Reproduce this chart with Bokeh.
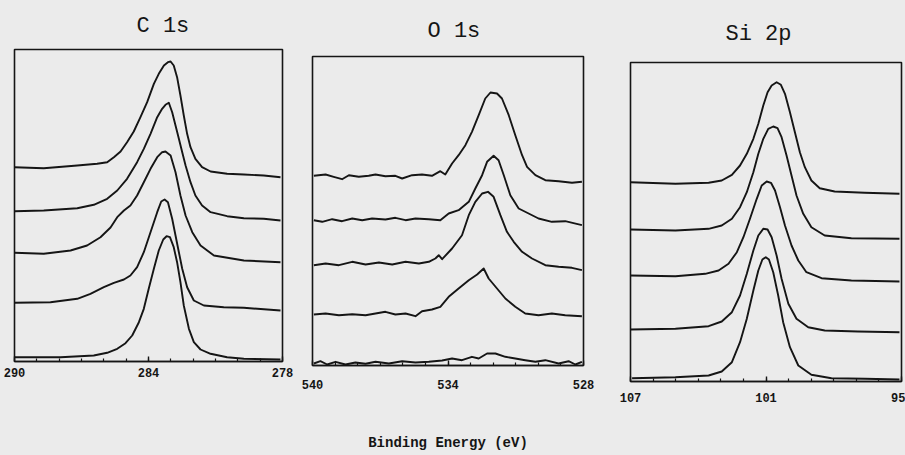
from bokeh.plotting import figure
from bokeh.layouts import row
from bokeh.models import Range1d, FixedTicker
from bokeh.embed import file_html
from bokeh.resources import INLINE

# ---------------- data (binding energy in eV, intensity in arbitrary units, stacked as plotted) ----------------
# C 1s
c1s_e1 = [290.0, 288.69, 287.19, 286.30, 285.85, 285.55, 285.25, 284.96, 284.66, 284.36, 284.06, 283.76, 283.54, 283.31, 283.13, 283.01, 282.87, 282.72, 282.57, 282.42, 282.27, 282.12, 281.90, 281.60, 281.22, 280.48, 279.73, 278.84, 278.09]
c1s_i1 = [194.3, 193.3, 196.0, 197.7, 199.3, 204.3, 210.0, 219.3, 230.0, 244.3, 259.3, 277.7, 287.7, 296.0, 299.3, 300.0, 296.0, 284.3, 266.0, 246.0, 227.7, 214.3, 202.7, 194.3, 190.0, 187.7, 187.0, 186.0, 184.3]
c1s_e2 = [290.0, 288.69, 287.19, 286.45, 285.85, 285.40, 284.96, 284.51, 284.21, 283.91, 283.61, 283.39, 283.24, 283.09, 282.94, 282.79, 282.64, 282.49, 282.34, 282.12, 281.90, 281.60, 281.22, 280.48, 279.73, 278.84, 278.09]
c1s_i2 = [150.3, 151.0, 153.3, 156.7, 162.7, 171.0, 182.7, 199.3, 212.7, 227.7, 244.3, 252.7, 256.7, 258.7, 249.3, 236.0, 222.7, 209.3, 196.0, 179.3, 166.0, 156.0, 149.3, 145.3, 143.3, 142.7, 141.0]
c1s_e3 = [290.0, 288.69, 287.49, 286.75, 286.15, 285.70, 285.40, 285.10, 284.81, 284.51, 284.21, 283.91, 283.61, 283.39, 283.24, 283.01, 282.79, 282.57, 282.34, 282.04, 281.67, 281.07, 279.73, 278.09]
c1s_i3 = [108.7, 107.7, 111.0, 116.0, 124.3, 134.0, 144.3, 151.0, 156.0, 166.0, 179.3, 192.7, 204.3, 209.3, 210.0, 206.0, 189.3, 166.0, 146.0, 129.3, 116.0, 106.0, 101.0, 99.3]
c1s_e4 = [290.0, 288.39, 287.19, 286.60, 286.00, 285.55, 285.10, 284.81, 284.51, 284.21, 283.91, 283.61, 283.43, 283.28, 283.13, 282.94, 282.79, 282.64, 282.49, 282.27, 281.97, 281.52, 280.63, 279.73, 278.09]
c1s_i4 = [58.7, 59.3, 62.7, 67.7, 74.3, 78.7, 82.0, 86.0, 94.3, 109.3, 129.3, 149.3, 160.0, 162.0, 159.3, 142.7, 126.0, 109.3, 92.7, 74.3, 61.0, 56.0, 54.3, 53.7, 51.0]
c1s_e5 = [290.0, 287.94, 286.45, 285.85, 285.40, 285.03, 284.73, 284.43, 284.21, 283.99, 283.76, 283.54, 283.34, 283.19, 283.04, 282.87, 282.72, 282.57, 282.42, 282.19, 281.97, 281.67, 281.22, 280.48, 279.73, 278.09]
c1s_i5 = [4.3, 4.3, 6.0, 8.7, 12.7, 18.3, 26.0, 39.3, 52.7, 72.7, 92.7, 111.0, 122.0, 125.3, 124.3, 114.3, 99.3, 79.3, 56.0, 32.7, 19.3, 12.0, 7.7, 4.3, 2.7, 2.0]

# O 1s
o1s_e1 = [539.94, 539.42, 539.06, 538.69, 538.39, 537.95, 537.51, 537.21, 536.77, 536.33, 536.03, 535.59, 535.15, 534.71, 534.34, 534.12, 533.82, 533.53, 533.23, 532.94, 532.64, 532.35, 532.12, 531.83, 531.61, 531.31, 531.02, 530.72, 530.50, 530.13, 529.69, 529.10, 528.51, 528.07]
o1s_i1 = [189.7, 191.0, 188.7, 186.3, 190.3, 188.7, 189.7, 191.0, 189.3, 189.7, 187.0, 190.3, 191.0, 189.7, 194.3, 191.0, 202.0, 210.3, 220.3, 233.7, 250.3, 267.0, 273.0, 272.0, 267.0, 250.3, 230.3, 210.3, 198.7, 190.3, 185.3, 184.3, 182.7, 183.7]
o1s_e2 = [539.94, 539.57, 539.13, 538.69, 538.24, 537.80, 537.36, 536.77, 536.33, 535.88, 535.44, 534.85, 534.34, 533.97, 533.53, 533.08, 532.79, 532.49, 532.27, 531.98, 531.76, 531.53, 531.24, 530.87, 530.43, 529.99, 529.40, 528.81, 528.07]
o1s_i2 = [145.3, 143.7, 146.3, 144.3, 147.0, 145.3, 147.0, 146.0, 147.7, 145.3, 147.0, 146.3, 145.3, 152.0, 155.3, 163.7, 177.0, 190.3, 203.7, 209.7, 205.3, 190.3, 170.3, 157.0, 152.0, 147.0, 143.7, 144.3, 140.3]
o1s_e3 = [539.94, 539.42, 538.83, 538.24, 537.65, 537.06, 536.47, 535.88, 535.29, 534.85, 534.56, 534.41, 534.26, 533.82, 533.38, 533.08, 532.79, 532.49, 532.23, 531.98, 531.68, 531.39, 531.09, 530.72, 530.28, 529.69, 529.10, 528.51, 528.07]
o1s_i3 = [100.3, 102.0, 100.3, 103.7, 101.0, 103.0, 101.0, 103.7, 102.0, 103.7, 107.0, 110.3, 106.3, 117.0, 130.3, 150.3, 163.7, 172.0, 173.7, 168.7, 150.3, 133.7, 123.7, 113.7, 107.0, 100.3, 98.7, 97.7, 95.3]
o1s_e4 = [539.94, 539.42, 538.83, 538.24, 537.65, 536.77, 536.33, 535.88, 535.44, 535.15, 534.71, 534.34, 533.97, 533.53, 533.08, 532.71, 532.42, 532.20, 531.83, 531.46, 531.02, 530.58, 529.99, 529.40, 528.81, 528.07]
o1s_i4 = [51.0, 52.0, 50.3, 51.3, 50.3, 53.7, 51.0, 52.0, 49.3, 54.3, 56.0, 58.7, 68.7, 77.0, 85.3, 91.0, 97.0, 87.0, 77.0, 67.0, 58.7, 52.0, 50.3, 52.0, 50.3, 49.3]
o1s_e5 = [539.94, 539.65, 539.35, 538.98, 538.54, 538.10, 537.65, 537.21, 536.62, 536.03, 535.44, 534.85, 534.26, 533.82, 533.38, 532.94, 532.64, 532.27, 531.90, 531.46, 531.02, 530.58, 530.13, 529.69, 529.10, 528.66, 528.36, 528.07]
o1s_i5 = [2.0, 4.3, 1.0, 3.7, 1.0, 3.0, 1.7, 3.7, 2.0, 4.3, 3.0, 3.7, 5.0, 7.0, 5.3, 8.7, 7.0, 12.0, 12.0, 8.7, 7.0, 5.3, 3.7, 5.3, 2.0, 4.3, 1.0, 3.7]

# Si 2p
si2p_e1 = [107.0, 105.01, 103.54, 102.96, 102.51, 102.15, 101.85, 101.56, 101.34, 101.12, 100.93, 100.75, 100.53, 100.34, 100.16, 99.94, 99.72, 99.50, 99.28, 98.99, 98.62, 97.96, 96.63, 95.09]
si2p_i1 = [199.3, 197.7, 198.7, 201.0, 206.7, 216.0, 227.7, 242.7, 257.7, 276.0, 289.3, 296.0, 299.3, 296.7, 287.7, 269.3, 249.3, 229.3, 214.3, 201.0, 193.3, 190.0, 188.7, 187.7]
si2p_e2 = [107.0, 105.01, 103.54, 102.96, 102.51, 102.15, 101.85, 101.56, 101.34, 101.12, 100.90, 100.68, 100.49, 100.31, 100.09, 99.87, 99.65, 99.35, 98.99, 98.40, 97.22, 95.09]
si2p_i2 = [152.0, 151.0, 152.7, 156.0, 162.7, 174.3, 189.3, 209.3, 227.7, 242.7, 252.7, 255.0, 253.3, 244.3, 226.0, 206.0, 186.0, 167.7, 154.3, 146.0, 143.3, 142.7]
si2p_e3 = [107.0, 105.01, 103.69, 103.10, 102.66, 102.29, 102.0, 101.71, 101.41, 101.19, 100.97, 100.78, 100.60, 100.38, 100.16, 99.87, 99.57, 99.21, 98.54, 97.22, 95.09]
si2p_i3 = [106.0, 105.3, 107.7, 111.0, 117.7, 129.3, 144.3, 162.7, 182.7, 196.0, 200.0, 198.7, 191.0, 174.3, 156.0, 136.0, 121.0, 109.3, 103.3, 101.0, 100.0]
si2p_e4 = [107.0, 105.01, 103.54, 102.96, 102.51, 102.15, 101.85, 101.56, 101.34, 101.12, 100.93, 100.75, 100.53, 100.31, 100.01, 99.65, 99.13, 98.40, 96.93, 95.09]
si2p_i4 = [52.0, 52.7, 55.3, 60.0, 69.3, 86.0, 107.7, 131.0, 146.0, 152.7, 152.0, 144.3, 126.0, 102.7, 77.7, 62.7, 54.3, 51.0, 50.0, 49.3]
si2p_e5 = [106.93, 105.01, 103.54, 102.96, 102.51, 102.15, 101.85, 101.56, 101.34, 101.16, 101.01, 100.87, 100.68, 100.46, 100.24, 99.94, 99.57, 98.99, 98.10, 96.63, 95.09]
si2p_i5 = [3.3, 4.3, 6.0, 10.0, 19.3, 39.3, 62.7, 91.0, 111.0, 122.0, 124.3, 122.0, 109.3, 86.0, 59.3, 34.3, 16.0, 6.7, 3.3, 2.7, 2.0]

panel_titles = ["C 1s", "O 1s", "Si 2p"]
x_limits = [(290, 278), (540, 528), (107, 95)]
major_ticks = [[290, 284, 278], [540, 534, 528], [107, 101, 95]]
x_label = "Binding Energy (eV)"

c1s_curves = [(c1s_e1, c1s_i1), (c1s_e2, c1s_i2), (c1s_e3, c1s_i3), (c1s_e4, c1s_i4), (c1s_e5, c1s_i5)]
o1s_curves = [(o1s_e1, o1s_i1), (o1s_e2, o1s_i2), (o1s_e3, o1s_i3), (o1s_e4, o1s_i4), (o1s_e5, o1s_i5)]
si2p_curves = [(si2p_e1, si2p_i1), (si2p_e2, si2p_i2), (si2p_e3, si2p_i3), (si2p_e4, si2p_i4), (si2p_e5, si2p_i5)]

# ---------------- styling / layout ----------------
BG = "#ebebeb"
INK = "#151515"
MONO = "Liberation Mono"
H = 455


def panel(idx, curves, y_top, width, bl, br, bt, bb, title_offset, title_standoff, label_standoff, axis_label=None):
    lo, hi = x_limits[idx]
    p = figure(width=width, height=H, title=panel_titles[idx],
               x_range=Range1d(lo, hi), y_range=Range1d(0, y_top),
               y_axis_location=None, output_backend="svg", toolbar_location=None,
               min_border_left=bl, min_border_right=br, min_border_top=bt, min_border_bottom=bb,
               background_fill_color=BG, border_fill_color=BG,
               outline_line_color=INK, outline_line_width=1.6)
    p.frame_align = False
    p.grid.visible = False

    p.title.align = "left"
    p.title.offset = title_offset
    p.title.standoff = title_standoff
    p.title.text_font = MONO
    p.title.text_font_size = "22px"
    p.title.text_font_style = "normal"
    p.title.text_color = INK

    ax = p.xaxis[0]
    ax.ticker = FixedTicker(ticks=major_ticks[idx],
                            minor_ticks=list(range(min(lo, hi), max(lo, hi) + 1)))
    ax.axis_line_color = INK
    ax.axis_line_width = 1.6
    ax.major_tick_in = 5
    ax.major_tick_out = 0
    ax.minor_tick_in = 3
    ax.minor_tick_out = 0
    ax.major_tick_line_color = INK
    ax.minor_tick_line_color = INK
    ax.major_tick_line_width = 1.4
    ax.minor_tick_line_width = 1.2
    ax.major_label_text_font = MONO
    ax.major_label_text_font_size = "12px"
    ax.major_label_text_font_style = "bold"
    ax.major_label_text_color = INK
    ax.major_label_standoff = label_standoff
    if axis_label:
        ax.axis_label = axis_label
        ax.axis_label_text_font = MONO
        ax.axis_label_text_font_size = "14px"
        ax.axis_label_text_font_style = "bold"
        ax.axis_label_text_color = INK
        ax.axis_label_standoff = 43

    for e, inten in curves:
        p.line(e, inten, line_color=INK, line_width=1.9, line_join="round")
    return p


# frames: C 1s x 14..282, y 49..361 | O 1s x 312..583, y 56..365 | Si 2p x 630..901, y 62..381
p1 = panel(0, c1s_curves, 312, 297, 14, 15, 49, H - 49 - 312, 122, 21, 6)
p2 = panel(1, o1s_curves, 309, 308, 15, 22, 56, H - 56 - 309, 115, 26, 14, axis_label=x_label)
p3 = panel(2, si2p_curves, 319, 300, 25, 4, 62, H - 62 - 319, 95, 32, 11)

layout = row(p1, p2, p3, styles={"background-color": BG})
open("out.html", "w").write(file_html(layout, INLINE))
